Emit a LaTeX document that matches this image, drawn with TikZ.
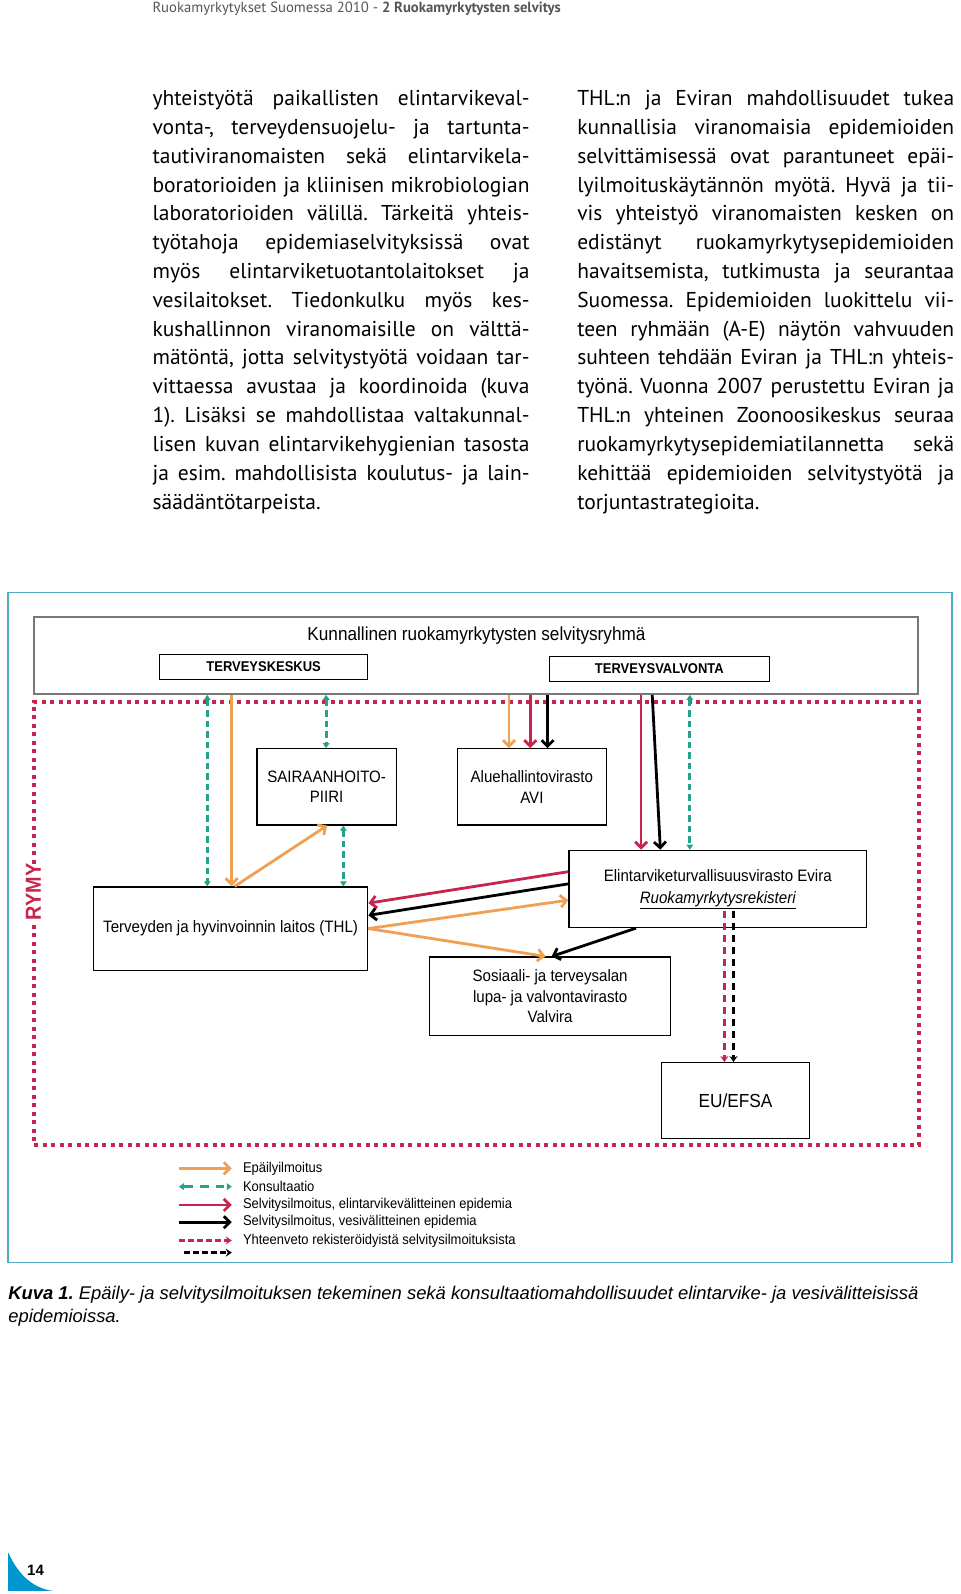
\documentclass[tikz,border=0pt]{standalone}
\usepackage{fontspec}
\setmainfont{PT Sans}
\newfontfamily\arialn[FakeStretch=0.914]{Liberation Sans}
\newfontfamily\arialc{Liberation Sans}
\usetikzlibrary{arrows.meta,fit}

\definecolor{epaorange}{RGB}{240,160,82}
\definecolor{selred}{RGB}{200,36,80}
\definecolor{konsteal}{RGB}{36,162,140}
\definecolor{framecol}{RGB}{78,172,192}
\definecolor{pageblue}{RGB}{0,150,208}
\definecolor{headgray}{RGB}{85,85,85}
\definecolor{boxgray}{RGB}{120,120,120}

\newlength\colw
\setlength\colw{377pt}
\frenchspacing

\begin{document}
\begin{tikzpicture}[x=1.016pt,y=-1.016pt,
  txtline/.style={anchor=base west,inner sep=0pt,font=\fontsize{21.5}{24}\selectfont},
  box/.style={draw=black,line width=1.2pt,inner sep=0pt},
  boxtext/.style={align=center,inner sep=0pt,font=\arialn\fontsize{16.5}{20.5}\selectfont},
  smallbox/.style={draw=black,line width=1pt,inner sep=0pt},
  smalltext/.style={inner sep=0pt,font=\arialn\bfseries\fontsize{14.2}{16}\selectfont},
  legtext/.style={anchor=west,inner sep=0pt,font=\arialn\fontsize{14.2}{16}\selectfont},
  epa/.style={draw=epaorange,line width=2.8pt,-{Straight Barb[length=6pt,width=12pt]}},
  sel/.style={draw=selred,line width=2.8pt,-{Straight Barb[length=6pt,width=12pt]}},
  ves/.style={draw=black,line width=2.8pt,-{Straight Barb[length=6pt,width=12pt]}},
  kons/.style={draw=konsteal,line width=2.8pt,dash pattern=on 6.5pt off 4pt,
    {Triangle[length=5pt,width=6.5pt]}-{Triangle[length=5pt,width=6.5pt]}},
  selrek/.style={draw=selred,line width=2.8pt,dash pattern=on 7pt off 5pt,
    -{Stealth[length=6pt,width=8pt]}},
  vesrek/.style={draw=black,line width=2.8pt,dash pattern=on 7pt off 5pt,
    -{Stealth[length=6pt,width=8pt]}}]

  \useasboundingbox (0,0) rectangle (945,1569);
  \fill[white] (0,0) rectangle (945,1569);

  % page header
  \node[anchor=base west,inner sep=0pt,text=headgray,font=\fontsize{14.7}{16}\selectfont]
    (head) at (150,12) {Ruokamyrkytykset Suomessa 2010 - \textbf{2 Ruokamyrkytysten selvitys}};

  % left column
  \foreach \txt [count=\i] in {
    {yhteistyötä paikallisten elintarvikeval-},
    {vonta-, terveydensuojelu- ja tartunta-},
    {tautiviranomaisten sekä elintarvikela-},
    {boratorioiden ja kliinisen mikrobiologian},
    {laboratorioiden välillä. Tärkeitä yhteis-},
    {työtahoja epidemiaselvityksissä ovat},
    {myös elintarviketuotantolaitokset ja},
    {vesilaitokset. Tiedonkulku myös kes-},
    {kushallinnon viranomaisille on välttä-},
    {mätöntä, jotta selvitystyötä voidaan tar-},
    {vittaessa avustaa ja koordinoida (kuva},
    {1). Lisäksi se mahdollistaa valtakunnal-},
    {lisen kuvan elintarvikehygienian tasosta},
    {ja esim. mahdollisista koulutus- ja lain-},
    {säädäntötarpeista.\hfill}}
    \node[txtline] (left\i) at (150,{104+28.36*(\i-1)}) {\makebox[\colw][s]{\txt}};

  % right column
  \foreach \txt [count=\i] in {
    {THL:n ja Eviran mahdollisuudet tukea},
    {kunnallisia viranomaisia epidemioiden},
    {selvittämisessä ovat parantuneet epäi-},
    {lyilmoituskäytännön myötä. Hyvä ja tii-},
    {vis yhteistyö viranomaisten kesken on},
    {edistänyt ruokamyrkytysepidemioiden},
    {havaitsemista, tutkimusta ja seurantaa},
    {Suomessa. Epidemioiden luokittelu vii-},
    {teen ryhmään (A-E) näytön vahvuuden},
    {suhteen tehdään Eviran ja THL:n yhteis-},
    {työnä. Vuonna 2007 perustettu Eviran ja},
    {THL:n yhteinen Zoonoosikeskus seuraa},
    {ruokamyrkytysepidemiatilannetta sekä},
    {kehittää epidemioiden selvitystyötä ja},
    {torjuntastrategioita.\hfill}}
    \node[txtline] (right\i) at (568,{104+28.36*(\i-1)}) {\makebox[\colw][s]{\txt}};

  % figure frame
  \draw[framecol,line width=1.3pt] (8,583) rectangle (937,1243);

  % municipal group
  \node[draw=boxgray,line width=2pt,inner sep=0pt,fit={(33,607) (904,683)}] (grp) {};
  \node[inner sep=0pt,font=\arialn\fontsize{18.8}{22}\selectfont] (grptitle) at (469,626)
    {Kunnallinen ruokamyrkytysten selvitysryhmä};
  \node[smallbox,fit={(157,644) (362,669)},label={[smalltext]center:TERVEYSKESKUS}] (tk) {};
  \node[smallbox,fit={(541,646) (757,671)},label={[smalltext]center:TERVEYSVALVONTA}] (tv) {};

  % RYMY frame
  \node[rotate=90,inner sep=0pt,text=selred,font=\arialn\bfseries\fontsize{21.7}{24}\selectfont]
    (rymy) at (33,878) {RYMY};
  \draw[selred,line width=4pt,dash pattern=on 4pt off 4.5pt]
    (33,850) -- (33,691) -- (905,691) -- (905,1127) -- (33,1127) -- (33,906);

  % agencies
  \node[box,fit={(253,737) (390,812)},label={[boxtext]center:SAIRAANHOITO-\\PIIRI}] (sair) {};
  \node[box,fit={(450,737) (597,812)},label={[boxtext]center:Aluehallintovirasto\\AVI}] (avi) {};
  \node[box,fit={(92,873) (362,955)},
    label={[boxtext]center:Terveyden ja hyvinvoinnin laitos (THL)}] (thl) {};
  \node[box,fit={(560,837) (853,913)},
    label={[boxtext]center:Elintarviketurvallisuusvirasto Evira\\[1.5pt]\underline{\itshape Ruokamyrkytysrekisteri}}] (evira) {};
  \node[box,fit={(423,942) (660,1019)},
    label={[boxtext]center:Sosiaali- ja terveysalan\\lupa- ja valvontavirasto\\Valvira}] (valvira) {};
  \node[box,fit={(651,1046) (797,1121)},
    label={[boxtext,font=\arialn\fontsize{18.9}{22}\selectfont]center:EU/EFSA}] (eu) {};

  % from the municipal group
  \draw[kons] (grp.south -| 204,0) -- (thl.north -| 204,0);
  \draw[epa] (grp.south -| 228,0) -- (thl.north -| 228,0);
  \draw[epa] (thl.north -| 231,0) -- (sair.south -| 322,0);
  \draw[kons] (grp.south -| 321,0) -- (sair.north -| 321,0);
  \draw[kons] (sair.south -| 338,0) -- (thl.north -| 338,0);
  \draw[epa] (grp.south -| 501,0) -- (avi.north -| 501,0);
  \draw[sel] (grp.south -| 522,0) -- (avi.north -| 522,0);
  \draw[ves] (grp.south -| 539,0) -- (avi.north -| 539,0);
  \draw[sel] (grp.south -| 631,0) -- (evira.north -| 631,0);
  \draw[ves] (grp.south -| 642,0) -- (evira.north -| 650,0);
  \draw[kons] (grp.south -| 679,0) -- (evira.north -| 679,0);

  % between agencies
  \draw[sel] (evira.west |- 0,858) -- (thl.east |- 0,889);
  \draw[ves] (evira.west |- 0,870) -- (thl.east |- 0,901);
  \draw[epa] (thl.east |- 0,914) -- (evira.west |- 0,886);
  \draw[epa] (thl.east |- 0,914) -- (valvira.north -| 537,0);
  \draw[ves] (evira.south -| 626,0) -- (valvira.north -| 543,0);

  % register summary to EU
  \coordinate (rek1) at (713,897);
  \coordinate (rek2) at (722,897);
  \draw[selrek] (rek1) -- (eu.north -| rek1);
  \draw[vesrek] (rek2) -- (eu.north -| rek2);

  % legend
  \node[legtext] (leg1) at (239,1150) {Epäilyilmoitus};
  \node[legtext] (leg2) at (239,1168) {Konsultaatio};
  \node[legtext] (leg3) at (239,1186) {Selvitysilmoitus, elintarvikevälitteinen epidemia};
  \node[legtext] (leg4) at (239,1203) {Selvitysilmoitus, vesivälitteinen epidemia};
  \node[legtext] (leg5) at (239,1221) {Yhteenveto rekisteröidyistä selvitysilmoituksista};
  \coordinate (leg6) at (239,1233);
  \draw[epa] ([xshift=-64pt]leg1.west) -- ([xshift=-11pt]leg1.west);
  \draw[kons,dash pattern=on 9pt off 7pt] ([xshift=-64pt]leg2.west) -- ([xshift=-11pt]leg2.west);
  \draw[sel] ([xshift=-64pt]leg3.west) -- ([xshift=-11pt]leg3.west);
  \draw[ves] ([xshift=-64pt]leg4.west) -- ([xshift=-11pt]leg4.west);
  \draw[selrek,dash pattern=on 6pt off 3pt] ([xshift=-64pt]leg5.west) -- ([xshift=-11pt]leg5.west);
  \draw[vesrek,dash pattern=on 6pt off 3pt] ([xshift=-59pt]leg6) -- ([xshift=-11pt]leg6);

  % caption
  \node[anchor=base west,inner sep=0pt,font=\arialc\itshape\fontsize{18.4}{22}\selectfont]
    (cap1) at (8,1279) {\textbf{Kuva 1.} Epäily- ja selvitysilmoituksen tekeminen sekä konsultaatiomahdollisuudet elintarvike- ja vesivälitteisissä};
  \node[anchor=base west,inner sep=0pt,font=\arialc\itshape\fontsize{18.4}{22}\selectfont]
    (cap2) at (8,1302) {epidemioissa.};

  % page number
  \fill[pageblue] (8,1528) .. controls (18,1550) and (32,1563) .. (52,1566) -- (8,1566) -- cycle;
  \node[inner sep=0pt,font=\arialc\bfseries\fontsize{15}{18}\selectfont] (pagenum) at (35,1546) {14};
\end{tikzpicture}
\end{document}
